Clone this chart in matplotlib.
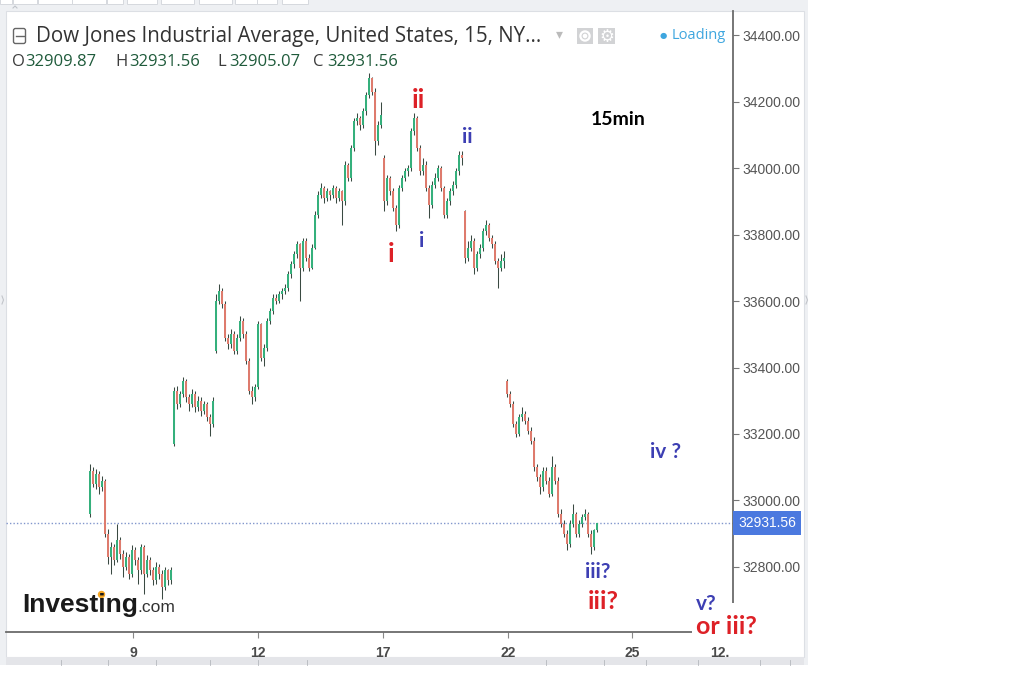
import matplotlib
matplotlib.use('Agg')
import matplotlib.pyplot as plt
from matplotlib.patches import Rectangle, FancyBboxPatch, Circle
import numpy as np

W, H = 1035, 691

# ---------------- data (15-min candles, Dow Jones) ----------------
opens = [
    32960, 33090, 33050, 33080, 33040, 33060, 32900, 32830, 32860, 32820,
    32880, 32840, 32800, 32830, 32780, 32850, 32820, 32790, 32860, 32780,
    32820, 32790, 32760, 32800, 32780, 32740, 32790, 32760,
    33170, 33330, 33290, 33320, 33360, 33310, 33290, 33320, 33280, 33300,
    33270, 33290, 33250, 33230,
    33450, 33600, 33630, 33590, 33490, 33470, 33500, 33450, 33490, 33540,
    33500, 33420, 33330, 33310, 33340, 33530, 33430, 33460, 33540, 33570,
    33610, 33600, 33620, 33630, 33640, 33680, 33710, 33740, 33770, 33700,
    33780, 33730, 33700, 33760, 33860, 33920, 33940, 33910, 33930, 33920,
    33940, 33910, 33930, 33900, 34010, 33970, 34060, 34140, 34150, 34130,
    34170, 34220, 34270, 34230, 34080, 34130,
    34030, 33900, 33970, 33930, 33880, 33830, 33940, 33970, 33990, 34000,
    34110, 34150, 34060, 33990, 34010, 33940, 33890, 33950, 33970, 34000,
    33940, 33860, 33900, 33930, 33950, 33990, 34040,
    33870, 33730, 33760, 33780, 33700, 33740, 33760, 33810, 33830, 33790,
    33770, 33720, 33700, 33720,
    33360, 33320, 33290, 33230, 33200, 33250, 33260, 33240, 33210, 33180,
    33100, 33070, 33040, 33090, 33060, 33020, 33100, 33060, 32960, 32930,
    32900, 32870, 32930, 32960, 32900, 32930, 32950, 32960, 32900, 32860,
    32909.87,
]
highs = [
    33110, 33100, 33095, 33090, 33075, 33065, 32915, 32875, 32870, 32930,
    32890, 32850, 32845, 32840, 32865, 32860, 32830, 32870, 32865, 32835,
    32830, 32800, 32815, 32810, 32790, 32800, 32795, 32800,
    33340, 33345, 33330, 33370, 33365, 33320, 33335, 33330, 33315, 33310,
    33300, 33295, 33260, 33310,
    33620, 33650, 33640, 33600, 33500, 33515, 33510, 33500, 33555, 33550,
    33510, 33430, 33345, 33350, 33540, 33535, 33470, 33550, 33580, 33620,
    33620, 33630, 33640, 33650, 33690, 33720, 33750, 33780, 33775, 33790,
    33790, 33740, 33770, 33870, 33930, 33955, 33945, 33940, 33935, 33950,
    33945, 33940, 33935, 34020, 34015, 34070, 34150, 34165, 34155, 34180,
    34230, 34285, 34275, 34240, 34140, 34200,
    34040, 33980, 33975, 33940, 33890, 33950, 33980, 34000, 34010, 34120,
    34165, 34155, 34070, 34030, 34020, 33950, 33960, 33985, 34010, 34005,
    33945, 33910, 33940, 33960, 34000, 34050, 34050,
    33875, 33780, 33800, 33790, 33750, 33770, 33820, 33845, 33835, 33800,
    33780, 33730, 33740, 33750,
    33365, 33330, 33300, 33240, 33260, 33280, 33270, 33250, 33220, 33190,
    33110, 33080, 33100, 33100, 33070, 33135, 33110, 33070, 32975, 32940,
    32910, 32940, 32990, 32965, 32940, 32960, 32975, 32965, 32910, 32915,
    32931.56,
]
lows = [
    32950, 33040, 33035, 33020, 33030, 32890, 32810, 32780, 32805, 32815,
    32825, 32770, 32790, 32765, 32770, 32805, 32750, 32780, 32720, 32770,
    32775, 32745, 32750, 32765, 32705, 32730, 32745, 32750,
    33165, 33275, 33280, 33310, 33295, 33270, 33280, 33265, 33270, 33255,
    33260, 33240, 33195, 33220,
    33445, 33590, 33580, 33480, 33455, 33460, 33440, 33440, 33480, 33490,
    33410, 33320, 33290, 33300, 33335, 33420, 33405, 33450, 33530, 33560,
    33590, 33595, 33605, 33620, 33630, 33670, 33700, 33730, 33600, 33690,
    33720, 33690, 33695, 33755, 33850, 33910, 33895, 33900, 33905, 33910,
    33895, 33900, 33830, 33890, 33960, 33960, 34050, 34130, 34115, 34120,
    34160, 34210, 34220, 34040, 34070, 34120,
    33870, 33890, 33920, 33870, 33810, 33820, 33930, 33960, 33975, 33990,
    34100, 34050, 33980, 33980, 33930, 33850, 33880, 33940, 33960, 33930,
    33850, 33850, 33890, 33920, 33940, 33980, 34010,
    33715, 33720, 33750, 33680, 33690, 33730, 33750, 33800, 33780, 33760,
    33710, 33640, 33690, 33700,
    33310, 33280, 33220, 33190, 33195, 33240, 33230, 33200, 33170, 33090,
    33060, 33020, 33030, 33050, 33010, 33015, 33050, 32950, 32920, 32890,
    32850, 32860, 32920, 32890, 32890, 32920, 32940, 32890, 32840, 32850,
    32905.07,
]
closes = [
    33090, 33050, 33080, 33040, 33060, 32900, 32830, 32860, 32820, 32880,
    32840, 32800, 32830, 32780, 32850, 32820, 32790, 32860, 32780, 32820,
    32790, 32760, 32800, 32780, 32740, 32790, 32760, 32790,
    33330, 33290, 33320, 33360, 33310, 33290, 33320, 33280, 33300, 33270,
    33290, 33250, 33230, 33300,
    33600, 33630, 33590, 33490, 33470, 33500, 33450, 33490, 33540, 33500,
    33420, 33330, 33310, 33340, 33530, 33430, 33460, 33540, 33570, 33610,
    33600, 33620, 33630, 33640, 33680, 33710, 33740, 33770, 33700, 33780,
    33730, 33700, 33760, 33860, 33920, 33940, 33910, 33930, 33920, 33940,
    33910, 33930, 33900, 34010, 33970, 34060, 34140, 34150, 34130, 34170,
    34220, 34270, 34230, 34080, 34130, 34160,
    33900, 33970, 33930, 33880, 33830, 33940, 33970, 33990, 34000, 34110,
    34150, 34060, 33990, 34010, 33940, 33890, 33950, 33970, 34000, 33940,
    33860, 33900, 33930, 33950, 33990, 34040, 34030,
    33730, 33760, 33780, 33700, 33740, 33760, 33810, 33830, 33790, 33770,
    33720, 33700, 33720, 33730,
    33320, 33290, 33230, 33200, 33250, 33260, 33240, 33210, 33180, 33100,
    33070, 33040, 33090, 33060, 33020, 33100, 33060, 32960, 32930, 32900,
    32870, 32930, 32960, 32900, 32930, 32950, 32960, 32900, 32860, 32909.87,
    32931.56,
]

x_tick_pos = [14.33, 56.0, 97.67, 139.33, 180.67, 210.0]
x_tick_labels = ['9', '12', '17', '22', '25', '12.']
y_ticks = [32800, 33000, 33200, 33400, 33600, 33800, 34000, 34200, 34400]

title_text = 'Dow Jones Industrial Average, United States, 15, NY...'
ohlc_labels = ['O', 'H', 'L', 'C']
ohlc_values = ['32909.87', '32931.56', '32905.07', '32931.56']

GREEN = '#35b07c'
RED = '#de7b6d'
WICK = '#3a4a42'
RED_T = '#dd2127'
BLUE_T = '#3d3fb3'

fig = plt.figure(figsize=(W / 100, H / 100), dpi=100)
fig.patch.set_facecolor('white')

# ---------------- background frame (pixel coords) ----------------
bg = fig.add_axes([0, 0, 1, 1], zorder=0)
bg.set_xlim(0, W)
bg.set_ylim(H, 0)
bg.axis('off')
bg.add_patch(Rectangle((0, 0), 808, 665, color='#eef0f3', lw=0))
bg.add_patch(Rectangle((6, 11), 798, 646, facecolor='white', edgecolor='#dcdfe4', lw=0.8))
for x0, x1 in [(0, 12), (13, 37), (38, 72), (72, 106), (107, 123), (127, 157),
               (161, 194), (199, 232), (235, 257), (257, 277), (282, 308)]:
    bg.add_patch(Rectangle((x0, -2), x1 - x0, 6, facecolor='white', edgecolor='#d6d9de', lw=0.7))
bg.plot([13, 15, 17], [8, 6, 8], color='#c0c4ca', lw=0.8)
bg.add_patch(Rectangle((6, 657), 798, 8, color='#e4e5e9', lw=0))
for xt in [61, 108, 156, 210, 258, 307, 546, 604, 646, 698, 760, 790]:
    bg.plot([xt, xt], [660, 665], color='#b5b8bd', lw=0.6)
bg.plot([2, 3.5, 2], [296, 300, 304], color='#c2c5ca', lw=0.8)
bg.plot([806, 807.5, 806], [296, 300, 304], color='#c2c5ca', lw=0.8)

# ---------------- main price axes ----------------
ax = fig.add_axes([6 / W, (H - 632) / H, 727 / W, 621 / H], zorder=1)
ax.patch.set_alpha(0)
idx = np.arange(len(closes))
o = np.array(opens, float)
h = np.array(highs, float)
l = np.array(lows, float)
c = np.array(closes, float)
up = c >= o
cols = np.where(up, GREEN, RED)
ax.vlines(idx, l, h, color=WICK, lw=0.75, zorder=2)
body_lo = np.minimum(o, c)
body_h = np.maximum(np.abs(c - o), 3)
ax.bar(idx, body_h, bottom=body_lo, width=0.95, color=cols, lw=0, zorder=3)

ax.set_xlim(-28, 214.33)
ax.set_ylim(32604.5, 34472.2)

for s in ['left', 'top']:
    ax.spines[s].set_visible(False)
ax.spines['right'].set_color('#6b6b6b')
ax.spines['right'].set_linewidth(1.3)
ax.spines['bottom'].set_color('#6b6b6b')
ax.spines['bottom'].set_linewidth(1.3)

ax.yaxis.tick_right()
ax.set_yticks(y_ticks)
ax.set_yticklabels(['%.2f' % v for v in y_ticks], fontsize=10, color='#555555',
                   family='Liberation Sans')
ax.tick_params(axis='y', direction='out', length=4, width=0.8, color='#777777', pad=2.5)
ax.set_xticks(x_tick_pos)
ax.set_xticklabels(x_tick_labels, fontsize=10, color='#4a4a4a', fontweight='bold',
                   family='Liberation Sans')
ax.tick_params(axis='x', direction='out', length=4, width=0.8, color='#888888', pad=6)

# current price line & marker
last = closes[-1]
ax.axhline(last, color='#8196cc', lw=1.0, ls=(0, (1, 1.5)), zorder=1)
ax.annotate('%.2f' % last, xy=(1.0, last), xycoords=('axes fraction', 'data'),
            xytext=(3.6, 0), textcoords='offset points', va='center', ha='left',
            fontsize=10, color='white', family='Liberation Sans', annotation_clip=False,
            bbox=dict(boxstyle='square,pad=0.35', fc='#4b79df', ec='none'), zorder=6)

# white patch hiding the corner of the axes lines (behind "or iii?")
ax.add_patch(Rectangle((692 / W, (H - 642) / H), 72 / W, 39 / H, transform=fig.transFigure,
                       color='white', lw=0, zorder=6, clip_on=False))

# wave annotations (data coords)
def lab(x, y, s, color, size):
    ax.text(x, y, s, color=color, fontsize=size, fontweight='bold', family='Lato',
            ha='center', va='center', zorder=8, clip_on=False)

lab(109.3, 34205, 'ii', RED_T, 19)
lab(100.3, 33742, 'i', RED_T, 19)
lab(110.7, 33781, 'i', BLUE_T, 15)
lab(125.7, 34094, 'ii', BLUE_T, 15)
lab(169.3, 32784, 'iii?', BLUE_T, 15)
lab(171.0, 32697, 'iii?', RED_T, 18)
lab(192.0, 33145, 'iv ?', BLUE_T, 15)
lab(205.3, 32690, 'v?', BLUE_T, 15)
lab(212.0, 32622, 'or iii?', RED_T, 18)
ax.text(176, 34145, '15min', color='black', fontsize=14, fontweight='bold',
        family='Lato', ha='center', va='center', zorder=8)

# ---------------- foreground overlay (pixel coords) ----------------
fg = fig.add_axes([0, 0, 1, 1], zorder=3)
fg.set_xlim(0, W)
fg.set_ylim(H, 0)
fg.axis('off')
fg.patch.set_alpha(0)

# title row
fg.add_patch(FancyBboxPatch((13.5, 28.5), 12, 15, boxstyle='round,pad=0,rounding_size=2',
                            fc='white', ec='#666666', lw=1.0))
fg.plot([16, 23.5], [36, 36], color='#666666', lw=1.0)
fg.text(36, 36.5, title_text, fontsize=14.8, color='#333333', family='Open Sans',
        ha='left', va='center')
fg.text(559, 34, '\u25BE', fontsize=10, color='#bbbbbb', ha='center', va='center',
        family='DejaVu Sans')
fg.add_patch(Rectangle((577, 28), 16, 16, color='#d2d3d5', lw=0))
fg.add_patch(Circle((585, 36), 4.6, fc='none', ec='white', lw=1.6))
fg.add_patch(Circle((585, 36), 1.6, color='white'))
fg.add_patch(Rectangle((598, 28), 17, 16, color='#d2d3d5', lw=0))
fg.text(606.5, 36.5, '\u2699', fontsize=12, color='white', ha='center', va='center',
        family='DejaVu Sans')
fg.text(663, 35, '\u25CF', fontsize=6, color='#3ea6df', ha='center', va='center',
        family='DejaVu Sans')
fg.text(672, 35, 'Loading', fontsize=10.5, color='#3ea6df', family='Open Sans',
        ha='left', va='center')

# OHLC row
lab_x = [12, 115, 217, 313]
val_x = [25, 129, 229, 327]
for lx, vx, lt, vt in zip(lab_x, val_x, ohlc_labels, ohlc_values):
    fg.text(lx, 62, lt, fontsize=12, color='#3c3c3c', family='Open Sans',
            ha='left', va='center')
    fg.text(vx, 62, vt, fontsize=12, color='#1f5b3b', family='Open Sans',
            ha='left', va='center')

# Investing.com logo
fg.text(22, 612, 'Investing', fontsize=19, fontweight='bold', color='#1a1a1a',
        family='Liberation Sans', ha='left', va='baseline')
fg.text(137, 612, '.com', fontsize=12.5, color='#333333', family='Liberation Sans',
        ha='left', va='baseline')
fg.add_patch(Circle((101.5, 594.5), 3.0, color='#f5a623'))

fig.savefig('out.png', dpi=100, facecolor='white')
